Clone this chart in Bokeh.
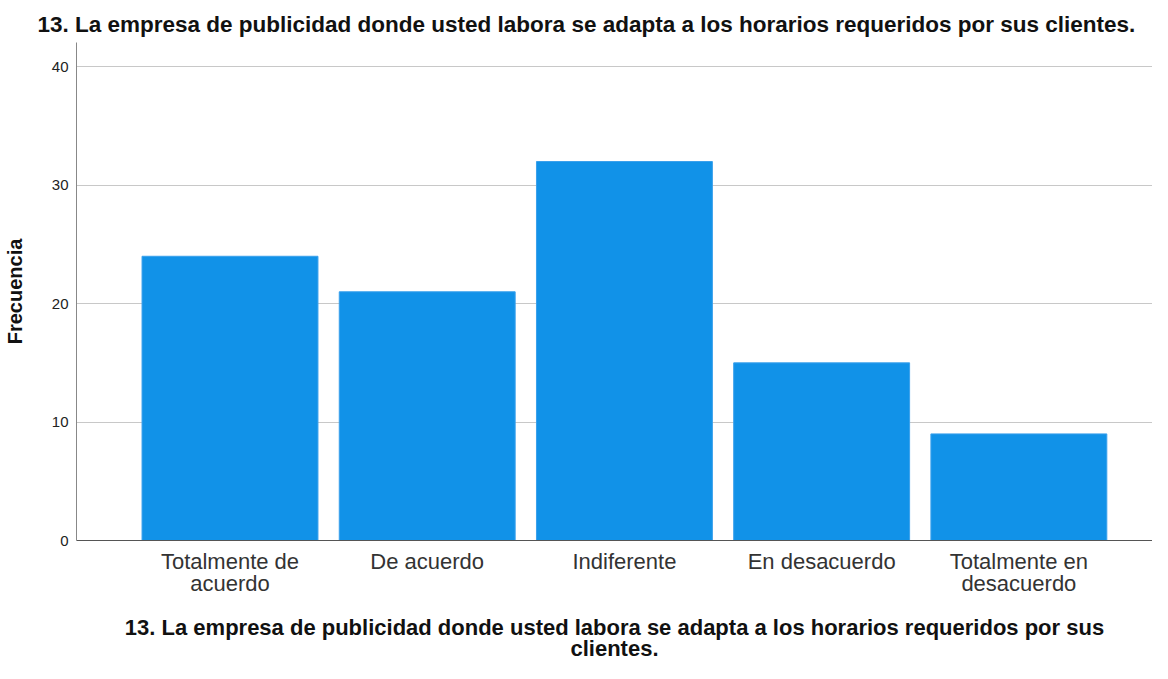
from bokeh.plotting import figure
from bokeh.models import Range1d, FixedTicker
from bokeh.embed import file_html
from bokeh.resources import INLINE

categories = ["Totalmente de\nacuerdo", "De acuerdo", "Indiferente", "En desacuerdo", "Totalmente en\ndesacuerdo"]
frecuencia = [24, 21, 32, 15, 9]
y_ticks = [0, 10, 20, 30, 40]
titulo = "13. La empresa de publicidad donde usted labora se adapta a los horarios requeridos por sus clientes."
x_titulo = "13. La empresa de publicidad donde usted labora se adapta a los horarios requeridos por sus\nclientes."

xs = list(range(1, len(categories) + 1))

p = figure(width=1152, height=663, output_backend="svg", toolbar_location=None,
           x_range=Range1d(0.2217, 5.6776), y_range=Range1d(0, 42.05),
           min_border_left=69, min_border_right=0, min_border_top=42, min_border_bottom=100)
p.outline_line_color = None
p.background_fill_color = "white"
p.border_fill_color = "white"

p.vbar(x=xs, top=frecuencia, width=0.892, bottom=0, fill_color="#1192e8", line_color="#3aa0ec", line_width=1)

p.title.text = titulo
p.title.align = "left"
p.title.text_font = "Liberation Sans"
p.title.text_font_style = "bold"
p.title.text_font_size = "22.5px"
p.title.text_color = "#111111"
p.title.offset = -39
p.title.standoff = 11

# x axis
p.xaxis.ticker = FixedTicker(ticks=xs)
p.xaxis.major_label_overrides = {i: c for i, c in zip(xs, categories)}
p.xaxis.major_label_text_font = "Liberation Sans"
p.xaxis.major_label_text_font_size = "22px"
p.xaxis.major_label_text_line_height = 0.9
p.xaxis.major_label_text_color = "#333333"
p.xaxis.major_tick_line_color = None
p.xaxis.major_tick_out = 0
p.xaxis.major_tick_in = 0
p.xaxis.minor_tick_line_color = None
p.xaxis.major_label_standoff = 8
p.xaxis.axis_line_color = "#555555"
p.xaxis.axis_line_width = 1
p.xaxis.axis_label = x_titulo
p.xaxis.axis_label_text_font = "Liberation Sans"
p.xaxis.axis_label_text_font_style = "bold"
p.xaxis.axis_label_text_font_size = "22px"
p.xaxis.axis_label_text_line_height = 0.82
p.xaxis.axis_label_text_color = "#111111"
p.xaxis.axis_label_standoff = 16

# y axis
p.yaxis.ticker = FixedTicker(ticks=y_ticks)
p.yaxis.major_label_text_font = "Liberation Sans"
p.yaxis.major_label_text_font_size = "15px"
p.yaxis.major_label_text_color = "#222222"
p.yaxis.major_tick_line_color = None
p.yaxis.major_tick_out = 0
p.yaxis.major_tick_in = 0
p.yaxis.minor_tick_line_color = None
p.yaxis.major_label_standoff = 8
p.yaxis.axis_line_color = "#888888"
p.yaxis.axis_label = "Frecuencia"
p.yaxis.axis_label_text_font = "Liberation Sans"
p.yaxis.axis_label_text_font_style = "bold"
p.yaxis.axis_label_text_font_size = "20px"
p.yaxis.axis_label_text_color = "#111111"
p.yaxis.axis_label_standoff = 23

p.xgrid.grid_line_color = None
p.ygrid.grid_line_color = "#c8c8c8"
p.ygrid.grid_line_width = 1
p.ygrid.ticker = FixedTicker(ticks=[10, 20, 30, 40])

open("out.html", "w").write(file_html(p, INLINE))
